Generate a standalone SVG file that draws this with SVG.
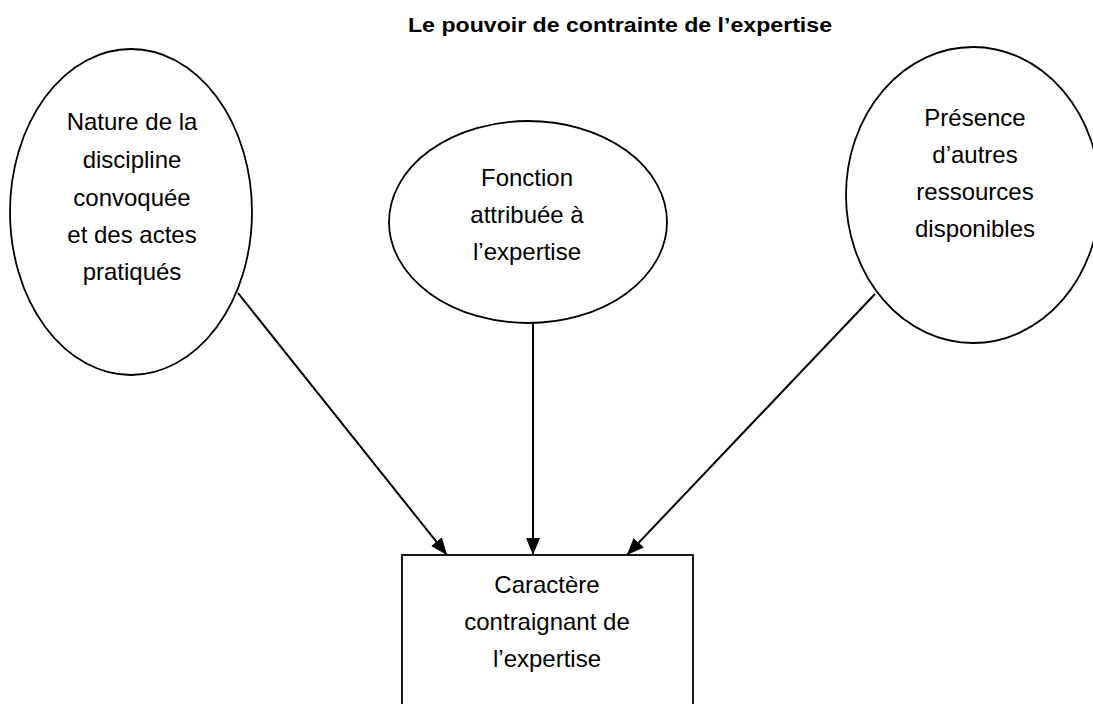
<svg xmlns="http://www.w3.org/2000/svg" width="1093" height="704" viewBox="0 0 1093 704">
<style>
  .shape { fill: #ffffff; stroke: #000000; stroke-width: 1.8; }
  .lbl { font-family: "Liberation Sans", Arial, sans-serif; font-size: 24px; fill: #000000; text-anchor: middle; }
  .title { font-family: "Liberation Sans", Arial, sans-serif; font-size: 20px; font-weight: bold; fill: #000000; text-anchor: middle; }
  .conn { stroke: #000000; stroke-width: 2; fill: none; marker-end: url(#arrow); }
</style>
<defs>
  <marker id="arrow" markerUnits="userSpaceOnUse" markerWidth="18" markerHeight="14" viewBox="0 0 18 14" refX="17" refY="7" orient="auto">
    <path d="M0,0 L17,7 L0,14 Z" fill="#000000"/>
  </marker>
</defs>
<rect width="1093" height="704" fill="#ffffff"/>
<text class="title" x="620" y="32" textLength="424" lengthAdjust="spacingAndGlyphs">Le pouvoir de contrainte de l’expertise</text>
<g id="node-nature">
  <ellipse class="shape" cx="131" cy="212" rx="121" ry="163"/>
  <text class="lbl" x="132" y="130">Nature de la</text>
  <text class="lbl" x="132" y="168">discipline</text>
  <text class="lbl" x="132" y="206">convoquée</text>
  <text class="lbl" x="132" y="243">et des actes</text>
  <text class="lbl" x="132" y="280">pratiqués</text>
</g>
<g id="node-fonction">
  <ellipse class="shape" cx="528" cy="222" rx="139" ry="101"/>
  <text class="lbl" x="527" y="186">Fonction</text>
  <text class="lbl" x="527" y="223">attribuée à</text>
  <text class="lbl" x="527" y="260">l’expertise</text>
</g>
<g id="node-presence">
  <ellipse class="shape" cx="973" cy="195" rx="127" ry="148"/>
  <text class="lbl" x="975" y="126">Présence</text>
  <text class="lbl" x="975" y="163">d’autres</text>
  <text class="lbl" x="975" y="200">ressources</text>
  <text class="lbl" x="975" y="237">disponibles</text>
</g>
<g id="node-caractere">
  <rect class="shape" x="402" y="555" width="291" height="170"/>
  <text class="lbl" x="547" y="593">Caractère</text>
  <text class="lbl" x="547" y="630">contraignant de</text>
  <text class="lbl" x="547" y="667">l’expertise</text>
</g>
<g id="connectors">
  <line class="conn" x1="238" y1="293" x2="447" y2="555"/>
  <line class="conn" x1="533" y1="323" x2="533" y2="555"/>
  <line class="conn" x1="875" y1="294" x2="627" y2="555"/>
</g>
</svg>
